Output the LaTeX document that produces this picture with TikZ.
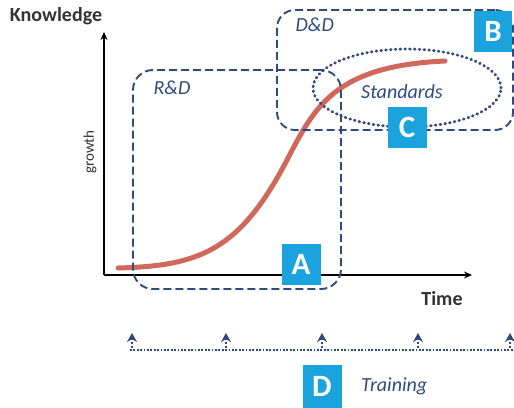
\documentclass[tikz,border=0pt]{standalone}
\usepackage{fontspec}
\setmainfont{Carlito}
\usepackage{xcolor}
\usetikzlibrary{arrows.meta, positioning, shapes.geometric}
\definecolor{navy}{HTML}{2F4B7C}
\definecolor{labelblue}{HTML}{1AA3DD}
\definecolor{curvered}{HTML}{D0685C}
\definecolor{axisgray}{HTML}{333333}

\begin{document}
\begin{tikzpicture}[
    x=1pt, y=-1pt,
    phase/.style={draw=navy, line width=1.9pt, dash pattern=on 8pt off 4pt, rounded corners=20pt, minimum width=#1},
    tag/.style={fill=labelblue, text=white, font=\fontsize{31}{31}\selectfont\bfseries, minimum width=39pt, minimum height=41pt, inner sep=0pt},
    title/.style={text=navy, font=\fontsize{20}{20}\selectfont\itshape},
    axislabel/.style={text=axisgray, font=\fontsize{20}{20}\selectfont\bfseries},
    axis/.style={-{Stealth[length=8pt, width=7pt]}, line width=1.7pt, black},
    tick/.style={-{Stealth[length=9pt, width=10pt, inset=3pt]}, navy, line width=2.4pt, dash pattern=on 2pt off 2pt}
]
\useasboundingbox (0,0) rectangle (514,407);

% axes
\coordinate (origin) at (104,275);
\coordinate (ytop) at (104,32);
\coordinate (xend) at (472,275);
\draw[axis] (origin) -- (ytop);
\draw[axis] (origin) -- (xend);
\node[axislabel] (knowledge) at (56,16) {Knowledge};
\node[axislabel] (time) at (442,299) {Time};
\node[rotate=90, text=axisgray, font=\fontsize{15}{15}\selectfont] (growth) at (90,152) {growth};

% growth curve
\draw[curvered, line width=5pt, line cap=round] (118,268)
    .. controls (200,266) and (240,250) .. (287,160)
    .. controls (315,106) and (335,66) .. (445,61);

% phases
\node[phase=208pt, minimum height=219pt] (rd) at (237,179.5) {};
\node[title, anchor=north west] (rdtext) at ([shift={(18pt,-8pt)}]rd.north west) {R\&D};
\node[phase=236pt, minimum height=120pt, rounded corners=18pt] (dd) at (395,70) {};
\node[title, anchor=north west] (ddtext) at ([shift={(16pt,-5pt)}]dd.north west) {D\&D};
\node[ellipse, draw=navy, line width=2.8pt, dash pattern=on 0.8pt off 4pt, line cap=round,
    minimum width=188pt, minimum height=78pt] (std) at (407,88) {};
\node[title] (stdtext) at (402,92) {Standards};

% tags
\node[tag] (tagA) at (301,264) {A};
\node[tag, minimum width=38pt] (tagB) at (493,31) {B};
\node[tag] (tagC) at (407,127) {C};

% training
\coordinate (tstart) at (130,350);
\coordinate (tend) at (514,350);
\draw[navy, line width=2.8pt, dash pattern=on 1.8pt off 1.6pt] (tstart) -- (tend);
\foreach \i/\xpos in {1/132, 2/226, 3/322, 4/418, 5/510} {
    \coordinate (t\i) at (\xpos,348);
    \coordinate (h\i) at (\xpos,333);
    \draw[tick] (t\i) -- (h\i);
}
\node[tag, minimum height=43pt] (tagD) at (322,386) {D};
\node[title, right=16pt of tagD] (training) {Training};
\end{tikzpicture}
\end{document}
